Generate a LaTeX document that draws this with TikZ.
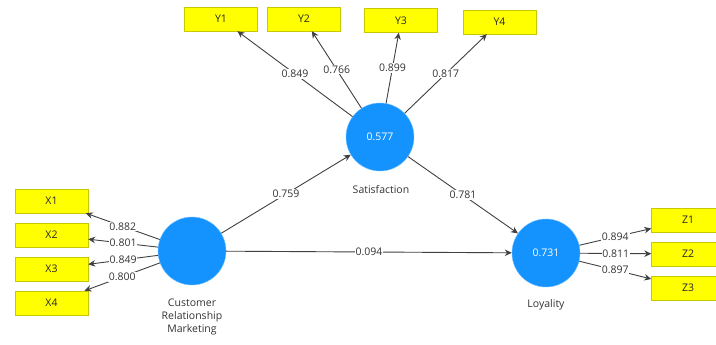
\documentclass[tikz,border=0pt]{standalone}
\usepackage{fontspec}
\setmainfont{Open Sans}
\usetikzlibrary{arrows.meta}
\definecolor{lvblue}{HTML}{1493FF}
\definecolor{indyellow}{HTML}{FFFF00}
\definecolor{indborder}{HTML}{C8C800}
\tikzset{
 latent/.style={circle,fill=lvblue,draw=lvblue!60!white,minimum size=68pt,inner sep=0pt,text=white},
 indicator/.style={rectangle,fill=indyellow,draw=indborder,minimum width=73pt,minimum height=24pt,inner sep=0pt,text=black!85},
 pathline/.style={-{Stealth[length=7pt,width=6.5pt]},draw=black!75,line width=.9pt},
 coef/.style={fill=white,inner sep=.8pt,text=black!80,pos=.5}
}
\begin{document}
\begin{tikzpicture}[x=1pt,y=-1pt,font=\fontsize{10.5}{13}\selectfont]
\clip (0,0) rectangle (716,345);
\node[latent](crm) at (192,251) {};
\node[latent](sat) at (380,137) {0.577};
\node[latent](loy) at (546,253) {0.731};
\node[align=center,text=black!80](crmlbl) at (192,317) {Customer\\Relationship\\Marketing};
\node[text=black!80](satlbl) at (381,190) {Satisfaction};
\node[text=black!80](loylbl) at (546,305) {Loyality};
\node[indicator](x1) at (51.5,201) {X1};
\node[indicator](x2) at (51.5,235) {X2};
\node[indicator](x3) at (51.5,269) {X3};
\node[indicator](x4) at (51.5,303) {X4};
\node[indicator](y1) at (221,19) {Y1};
\node[indicator](y2) at (304,19) {Y2};
\node[indicator](y3) at (401,20.5) {Y3};
\node[indicator](y4) at (499.5,22) {Y4};
\node[indicator](z1) at (688,220) {Z1};
\node[indicator](z2) at (688,254) {Z2};
\node[indicator](z3) at (688,288) {Z3};
\draw[pathline](crm)--node[coef]{0.882}(x1);
\draw[pathline](crm)--node[coef]{0.801}(x2);
\draw[pathline](crm)--node[coef]{0.849}(x3);
\draw[pathline](crm)--node[coef]{0.800}(x4);
\draw[pathline](sat)--node[coef]{0.849}(y1);
\draw[pathline](sat)--node[coef]{0.766}(y2);
\draw[pathline](sat)--node[coef]{0.899}(y3);
\draw[pathline](sat)--node[coef]{0.817}(y4);
\draw[pathline](loy)--node[coef]{0.894}(z1);
\draw[pathline](loy)--node[coef]{0.811}(z2);
\draw[pathline](loy)--node[coef]{0.897}(z3);
\draw[pathline](crm)--node[coef]{0.759}(sat);
\draw[pathline](sat)--node[coef]{0.781}(loy);
\draw[pathline](crm)--node[coef]{0.094}(loy);
\end{tikzpicture}
\end{document}
